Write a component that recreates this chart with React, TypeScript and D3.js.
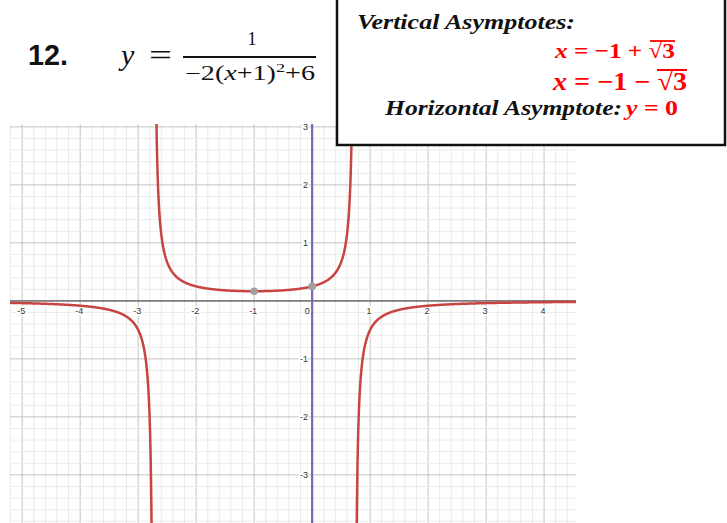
import React from "react";
import * as d3 from "d3";

// y = 1 / (a (x - h)^2 + k)
const coefA = [-2];
const coefH = [-1];
const coefK = [6];
const xDomain = [-5.21, 4.55];
const yDomain = [3.05, -3.83];
const xTickValues = [-5, -4, -3, -2, -1, 1, 2, 3, 4];
const yTickValues = [-3, -2, -1, 1, 2, 3];
const markedX = [-1, 0];

const W = 727;
const H = 523;
const PL = 10, PR = 576, PT = 124, PB = 523;

const f = (x: number) => 1 / (coefA[0] * (x - coefH[0]) ** 2 + coefK[0]);

export default function App() {
  const x = d3.scaleLinear().domain(xDomain).range([PL, PR]);
  const y = d3.scaleLinear().domain(yDomain).range([PT, PB]);

  const r = Math.sqrt(-coefK[0] / coefA[0]);
  const asym = [coefH[0] - r, coefH[0] + r];
  const eps = 0.0015;
  const segs: [number, number][] = [
    [xDomain[0], asym[0] - eps],
    [asym[0] + eps, asym[1] - eps],
    [asym[1] + eps, xDomain[1]],
  ];
  const line = d3
    .line<number>()
    .x((d) => x(d))
    .y((d) => y(Math.max(-60, Math.min(60, f(d)))));
  const paths = segs.map(([a, b]) => {
    const pts = d3.range(a, b, 0.001);
    pts.push(b);
    return line(pts) as string;
  });

  const minorX = d3.range(Math.ceil(xDomain[0] * 5), Math.floor(xDomain[1] * 5) + 1).map((i) => i / 5);
  const minorY = d3.range(Math.ceil(yDomain[1] * 5), Math.floor(yDomain[0] * 5) + 1).map((i) => i / 5);

  const x0 = x(0);
  const y0 = y(0);
  const labelStyle: React.CSSProperties = {
    fontFamily: "Liberation Sans, Arial, sans-serif",
    fontSize: 9,
    fill: "#333",
    stroke: "#fff",
    strokeWidth: 3,
    paintOrder: "stroke",
  } as any;

  const serifB = "Liberation Serif, Times New Roman, serif";

  return (
    <div style={{ position: "absolute", left: 0, top: 0 }}>
      <svg width={W} height={H} style={{ display: "block", background: "#fff" }}>
        <defs>
          <clipPath id="plot">
            <rect x={PL} y={PT} width={PR - PL} height={PB - PT} />
          </clipPath>
        </defs>
        <g clipPath="url(#plot)">
          {minorX.map((v) => {
            const major = Math.abs(v - Math.round(v)) < 1e-9;
            return (
              <line key={"vx" + v} x1={x(v)} x2={x(v)} y1={PT} y2={PB}
                stroke={major ? "#c4c4c4" : "#ebebeb"} strokeWidth={1} />
            );
          })}
          {minorY.map((v) => {
            const major = Math.abs(v - Math.round(v)) < 1e-9;
            return (
              <line key={"hy" + v} x1={PL} x2={PR} y1={y(v)} y2={y(v)}
                stroke={major ? "#c4c4c4" : "#ebebeb"} strokeWidth={1} />
            );
          })}
          <line x1={PL} x2={PR} y1={y0} y2={y0} stroke="#7d7d7d" strokeWidth={1.6} />
          <line x1={x0} x2={x0} y1={PT} y2={PB} stroke="#7a67b8" strokeWidth={2.2} />
          {xTickValues.map((v) => (
            <text key={"xt" + v} x={x(v) - 1} y={y0 + 13} textAnchor="middle" style={labelStyle}>
              {v < 0 ? "-" + Math.abs(v) : String(v)}
            </text>
          ))}
          <text x={x0 - 5} y={y0 + 13} textAnchor="middle" style={labelStyle}>0</text>
          {yTickValues.map((v) => (
            <text key={"yt" + v} x={x0 - 4} y={y(v) + 3} textAnchor="end" style={labelStyle}>
              {v < 0 ? "-" + Math.abs(v) : String(v)}
            </text>
          ))}
          {paths.map((d, i) => (
            <path key={i} d={d} fill="none" stroke="#c74440" strokeWidth={2.5} strokeLinejoin="round" />
          ))}
          {markedX.map((v) => (
            <circle key={"pt" + v} cx={x(v)} cy={y(f(v))} r={3.8} fill="#a0a0a0" />
          ))}
        </g>

        {/* Title equation */}
        <text x={28} y={65} fontFamily="Liberation Sans, Arial, sans-serif" fontWeight="bold" fontSize={29} textLength={40} lengthAdjust="spacingAndGlyphs" fill="#111">12.</text>
        <text x={121} y={65} fontFamily={serifB} fontStyle="italic" fontSize={30} fill="#111">y</text>
        <text x={149} y={65} fontFamily={serifB} fontSize={30} textLength={23} lengthAdjust="spacingAndGlyphs" fill="#111">=</text>
        <text x={252} y={45} fontFamily={serifB} fontSize={18} textAnchor="middle" fill="#111">1</text>
        <line x1={183} x2={316} y1={57} y2={57} stroke="#111" strokeWidth={2} />
        <text x={185} y={80} fontFamily={serifB} fontSize={20} textLength={130} lengthAdjust="spacingAndGlyphs" fill="#111">
          <tspan>−2(</tspan>
          <tspan fontStyle="italic">x</tspan>
          <tspan>+1)</tspan>
          <tspan fontSize={13} dy={-8}>2</tspan>
          <tspan dy={8}>+6</tspan>
        </text>

        {/* Asymptote box */}
        <rect x={337} y={-4} width={388} height={149} fill="#fff" stroke="#111" strokeWidth={2.5} />
        <text x={357} y={29} fontFamily={serifB} fontWeight="bold" fontStyle="italic" fontSize={21} textLength={218} lengthAdjust="spacingAndGlyphs" fill="#111">Vertical Asymptotes:</text>

        <text x={555} y={58} fontFamily={serifB} fontWeight="bold" fontSize={22} textLength={120} lengthAdjust="spacingAndGlyphs" fill="#ff0000">
          <tspan fontStyle="italic">x</tspan>
          <tspan> = −1 + √3</tspan>
        </text>
        <line x1={650} x2={675} y1={41} y2={41} stroke="#ff0000" strokeWidth={1.8} />

        <text x={553} y={90} fontFamily={serifB} fontWeight="bold" fontSize={25} textLength={134} lengthAdjust="spacingAndGlyphs" fill="#ff0000">
          <tspan fontStyle="italic">x</tspan>
          <tspan> = −1 − √3</tspan>
        </text>
        <line x1={657} x2={687} y1={70} y2={70} stroke="#ff0000" strokeWidth={2} />

        <text x={385} y={115} fontFamily={serifB} fontWeight="bold" fontStyle="italic" fontSize={21} textLength={237} lengthAdjust="spacingAndGlyphs" fill="#111">Horizontal Asymptote:</text>
        <text x={626} y={115} fontFamily={serifB} fontWeight="bold" fontSize={22} textLength={52} lengthAdjust="spacingAndGlyphs" fill="#ff0000">
          <tspan fontStyle="italic">y</tspan>
          <tspan> = 0</tspan>
        </text>
      </svg>
    </div>
  );
}
